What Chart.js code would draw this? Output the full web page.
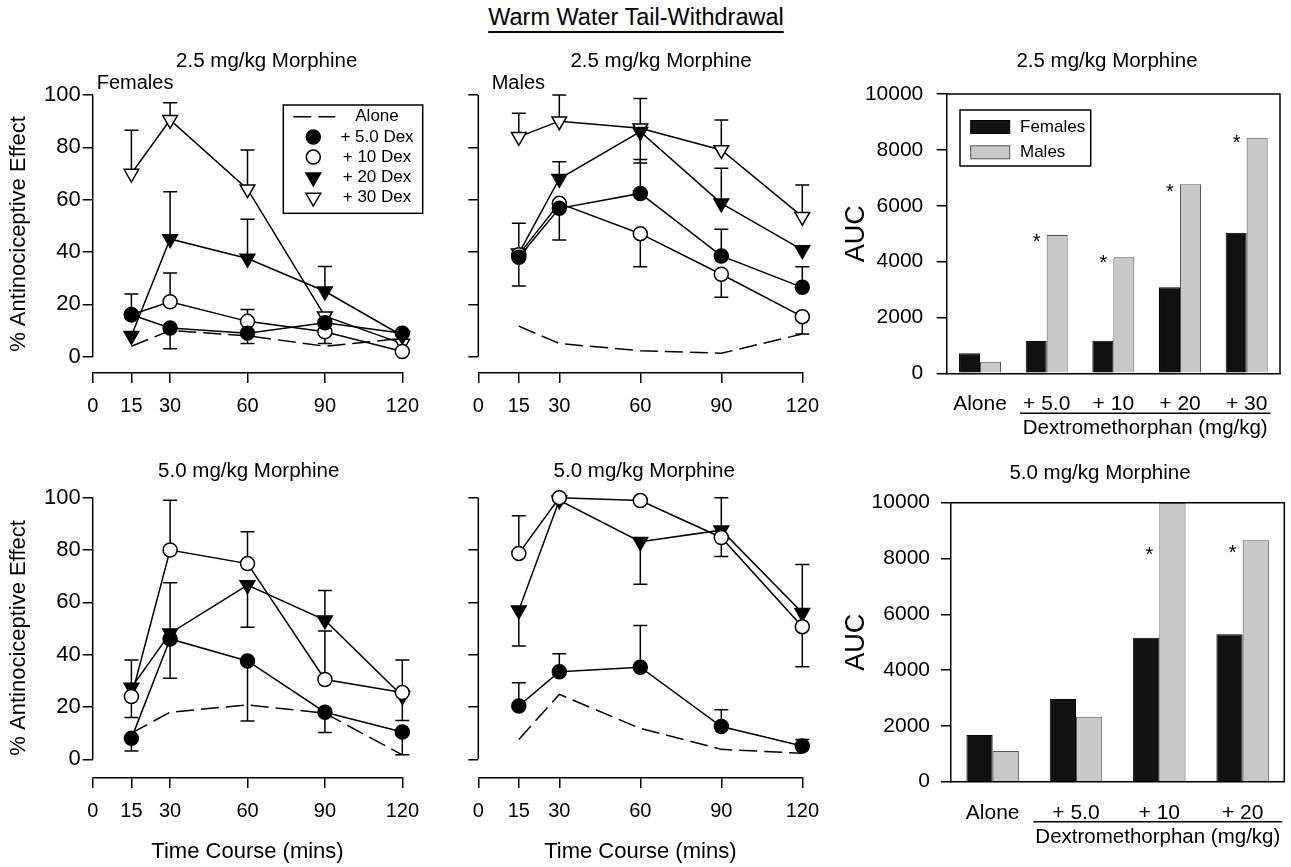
<!DOCTYPE html>
<html>
<head>
<meta charset="utf-8">
<title>Warm Water Tail-Withdrawal</title>
<script src="https://cdn.jsdelivr.net/npm/chart.js@4.4.1/dist/chart.umd.min.js"></script>
<style>
  body { margin: 0; background: #fff; }
  #page { position: relative; width: 1291px; height: 867px; overflow: hidden; background: #fff; }
  canvas { position: absolute; }
  #mainTitle {
    position: absolute; left: 0; top: 4px; width: 1272px; text-align: center;
    font: 23.5px 'Liberation Sans', Arial, sans-serif; color: #000;
    text-decoration: underline; text-underline-offset: 6px; text-decoration-thickness: 1.5px;
  }
</style>
</head>
<body>
<div id="page">
  <div id="mainTitle">Warm Water Tail-Withdrawal</div>
  <canvas id="f25"></canvas>
  <canvas id="m25"></canvas>
  <canvas id="f50"></canvas>
  <canvas id="m50"></canvas>
  <canvas id="auc25"></canvas>
  <canvas id="auc50"></canvas>
</div>
<script>
// time points (mins) and axis ticks
const times = [15, 30, 60, 90, 120];
const xTicks = [0, 15, 30, 60, 90, 120];
const pctTicks = [0, 20, 40, 60, 80, 100];
const aucTicks = [0, 2000, 4000, 6000, 8000, 10000];
const seriesNames = ['Alone', '+ 5.0 Dex', '+ 10 Dex', '+ 20 Dex', '+ 30 Dex'];

// 2.5 mg/kg morphine - females (errTips = end of the SEM bar, null = none drawn)
const f25Alone = [4, 10, 8, 4, 7];
const f25Dex5 = [16, 11, 9, 13, 9];
const f25Dex5Err = [24, 3, 5, null, null];
const f25Dex10 = [16, 21, 13.5, 9.5, 2];
const f25Dex10Err = [null, 32, 18, 5, null];
const f25Dex20 = [8, 45, 37.5, 25, 8];
const f25Dex20Err = [null, 63, 52.5, 34.5, null];
const f25Dex30 = [70, 90.5, 64, 15.5, 5];
const f25Dex30Err = [86.5, 97, 79, null, null];

// 2.5 mg/kg morphine - males
const m25Alone = [11.7, 5, 2.3, 1.3, 8.7];
const m25Dex5 = [38, 56.7, 62.4, 38.5, 26.5];
const m25Dex5Err = [27, 44.6, 75.4, 48.7, 34.4];
const m25Dex10 = [39, 58.6, 47, 31.5, 15.3];
const m25Dex10Err = [null, null, 34.4, 22.7, 8.7];
const m25Dex20 = [39.5, 68, 86, 58.6, 40.8];
const m25Dex20Err = [51, 74.5, 74, 72, null];
const m25Dex30 = [84, 90, 87.3, 79, 53.5];
const m25Dex30Err = [93, 100, 98.7, 90.4, 65.6];

// 5.0 mg/kg morphine - females
const f50Alone = [10, 18, 20.8, 17.6, 1.7];
const f50Dex5 = [8, 46, 37.6, 18, 10.4];
const f50Dex5Err = [3.2, 31, 14.6, 10.2, 1.7];
const f50Dex10 = [24, 80, 74.8, 30.5, 25.5];
const f50Dex10Err = [16, 99, 87, 49, 14.8];
const f50Dex20 = [27.4, 48.2, 66.6, 53.2, 24.2];
const f50Dex20Err = [38, 67.5, 50.5, 64.5, 38];

// 5.0 mg/kg morphine - males
const m50Alone = [7.6, 24.8, 11.8, 3.8, 2.3];
const m50Dex5 = [20.4, 33.5, 35.2, 12.5, 5.1];
const m50Dex5Err = [29.3, 40.3, 51.1, 18.9, 7.6];
const m50Dex10 = [78.7, 100, 98.9, 84.8, 50.7];
const m50Dex10Err = [93.1, null, null, 77.5, 35.4];
const m50Dex20 = [57, 99, 83.2, 87.6, 56];
const m50Dex20Err = [43.3, null, 66.9, 100, 74.5];

// AUC bars
const auc25Groups = ['Alone', '+ 5.0', '+ 10', '+ 20', '+ 30'];
const auc25Females = [716, 1157, 1169, 3079, 5036];
const auc25Males = [418, 4952, 4153, 6766, 8437];
const auc25Stars = [null, 4890, 4120, 6680, 8410];
const auc50Groups = ['Alone', '+ 5.0', '+ 10', '+ 20'];
const auc50Females = [1673, 2963, 5161, 5281];
const auc50Males = [1099, 2330, 10000, 8650];
const auc50Stars = [null, null, 8300, 8360];
const dexLabel = 'Dextromethorphan (mg/kg)';

const SANS = "'Liberation Sans', Arial, sans-serif";

Chart.defaults.font.family = SANS;
Chart.defaults.color = '#000';
Chart.defaults.animation = false;
Chart.defaults.plugins.legend.display = false;
Chart.defaults.plugins.tooltip.enabled = false;

// marker styles per series
const symbols = [
  { pointRadius: 0, borderDash: [18, 7] },
  { pointStyle: 'circle', pointRadius: 7, pointBackgroundColor: '#000' },
  { pointStyle: 'circle', pointRadius: 7, pointBackgroundColor: '#fff' },
  { pointStyle: 'triangle', pointRotation: 180, pointRadius: 8.5, pointBackgroundColor: '#000' },
  { pointStyle: 'triangle', pointRotation: 180, pointRadius: 8.5, pointBackgroundColor: '#fff' }
];

function series(i, values, tips) {
  return Object.assign({
    label: seriesNames[i],
    data: times.map((t, k) => ({ x: t, y: values[k] })),
    errTips: tips || null,
    borderColor: '#000',
    borderWidth: 1.5,
    pointBorderColor: '#000',
    pointBorderWidth: 1.5,
    tension: 0,
    clip: false,
    fill: false
  }, symbols[i]);
}

// --- plugins ---
const errorBars = {
  id: 'errorBars',
  beforeDatasetsDraw(chart) {
    const { ctx, scales: { x, y } } = chart;
    ctx.save();
    ctx.strokeStyle = '#000';
    ctx.lineWidth = 1.5;
    chart.data.datasets.forEach(ds => {
      if (!ds.errTips) return;
      ds.errTips.forEach((tip, i) => {
        if (tip === null) return;
        const px = x.getPixelForValue(ds.data[i].x);
        const p0 = y.getPixelForValue(ds.data[i].y);
        const p1 = y.getPixelForValue(tip);
        ctx.beginPath();
        ctx.moveTo(px, p0);
        ctx.lineTo(px, p1);
        ctx.moveTo(px - 7, p1);
        ctx.lineTo(px + 7, p1);
        ctx.stroke();
      });
    });
    ctx.restore();
  }
};

// y axis line only between first and last tick (detached axes)
const spine = {
  id: 'spine',
  beforeDatasetsDraw(chart) {
    const { ctx, chartArea, scales: { y } } = chart;
    ctx.save();
    ctx.strokeStyle = '#000';
    ctx.lineWidth = 1.5;
    ctx.beginPath();
    ctx.moveTo(chartArea.left, y.getPixelForValue(pctTicks[0]));
    ctx.lineTo(chartArea.left, y.getPixelForValue(pctTicks[pctTicks.length - 1]));
    ctx.stroke();
    ctx.restore();
  }
};

const frame = {
  id: 'frame',
  afterDatasetsDraw(chart) {
    const { ctx, chartArea: a } = chart;
    ctx.save();
    ctx.strokeStyle = '#000';
    ctx.lineWidth = 1.5;
    ctx.beginPath();
    ctx.moveTo(a.left, a.top);
    ctx.lineTo(a.right, a.top);
    ctx.lineTo(a.right, a.bottom);
    ctx.stroke();
    ctx.restore();
  }
};

const boxLegend = {
  id: 'boxLegend',
  afterDatasetsDraw(chart, args, o) {
    if (!o.box) return;
    const { ctx } = chart;
    const b = o.box;
    ctx.save();
    ctx.fillStyle = '#fff';
    ctx.fillRect(b.x, b.y, b.w, b.h);
    ctx.strokeStyle = '#000';
    ctx.lineWidth = 1.5;
    ctx.strokeRect(b.x, b.y, b.w, b.h);
    ctx.font = '17px ' + SANS;
    ctx.textBaseline = 'middle';
    chart.data.datasets.forEach((ds, i) => {
      const cy = b.y + o.first + i * o.step;
      ctx.fillStyle = '#000';
      if (chart.config.type === 'bar') {
        ctx.fillStyle = ds.backgroundColor;
        ctx.fillRect(o.symX, cy - 6.5, 39, 13);
        ctx.strokeStyle = ds.borderColor;
        ctx.lineWidth = 1;
        ctx.strokeRect(o.symX, cy - 6.5, 39, 13);
        ctx.fillStyle = '#000';
        ctx.textAlign = 'left';
        ctx.fillText(ds.label, o.textX, cy);
        return;
      }
      if (!ds.pointRadius) {
        ctx.save();
        ctx.strokeStyle = '#000';
        ctx.lineWidth = 1.5;
        ctx.setLineDash(ds.borderDash);
        ctx.beginPath();
        ctx.moveTo(o.symX - 20, cy);
        ctx.lineTo(o.symX + 22, cy);
        ctx.stroke();
        ctx.restore();
      } else {
        ctx.fillStyle = ds.pointBackgroundColor;
        ctx.strokeStyle = '#000';
        ctx.lineWidth = 1.5;
        Chart.helpers.drawPoint(ctx, {
          pointStyle: ds.pointStyle, radius: ds.pointRadius,
          rotation: ds.pointRotation || 0, borderWidth: 1.5
        }, o.symX, cy);
      }
      ctx.fillStyle = '#000';
      ctx.textAlign = 'center';
      ctx.fillText(ds.label, o.textX, cy);
    });
    ctx.restore();
  }
};

const stars = {
  id: 'stars',
  afterDatasetsDraw(chart) {
    const { ctx, scales: { y } } = chart;
    const ds = chart.data.datasets[1];
    const bars = chart.getDatasetMeta(1).data;
    ctx.save();
    ctx.font = '20px ' + SANS;
    ctx.fillStyle = '#000';
    ctx.textAlign = 'center';
    ctx.textBaseline = 'alphabetic';
    ds.stars.forEach((v, i) => {
      if (v === null) return;
      ctx.fillText('*', bars[i].x - bars[i].width / 2 - 10, y.getPixelForValue(v) + 11);
    });
    ctx.restore();
  }
};

const dexBracket = {
  id: 'dexBracket',
  afterDraw(chart, args, o) {
    const { ctx, chartArea, scales: { x } } = chart;
    const labels = chart.data.labels;
    const last = labels.length - 1;
    ctx.save();
    ctx.font = '21px ' + SANS;
    const x0 = x.getPixelForValue(1) - ctx.measureText(labels[1]).width / 2 - o.extend;
    const x1 = x.getPixelForValue(last) + ctx.measureText(labels[last]).width / 2 + o.extend;
    const yl = chartArea.bottom + 40;
    ctx.strokeStyle = '#000';
    ctx.lineWidth = 1.5;
    ctx.beginPath();
    ctx.moveTo(x0, yl);
    ctx.lineTo(x1, yl);
    ctx.stroke();
    ctx.font = '20.5px ' + SANS;
    ctx.fillStyle = '#000';
    ctx.textAlign = 'center';
    ctx.textBaseline = 'middle';
    ctx.fillText(dexLabel, (x0 + x1) / 2, yl + 15.5);
    ctx.restore();
  }
};

const panelText = {
  id: 'panelText',
  afterDraw(chart, args, o) {
    const { ctx } = chart;
    (o.items || []).forEach(t => {
      ctx.save();
      ctx.font = t.size + 'px ' + SANS;
      ctx.fillStyle = '#000';
      ctx.textAlign = t.align;
      ctx.textBaseline = 'middle';
      ctx.fillText(t.text, t.x, t.y);
      ctx.restore();
    });
  }
};

function place(id, p) {
  const c = document.getElementById(id);
  c.width = p.w;
  c.height = p.h;
  c.style.left = p.left + 'px';
  c.style.top = p.top + 'px';
  c.style.width = p.w + 'px';
  c.style.height = p.h + 'px';
  return c;
}

// page coordinates -> canvas coordinates for free text
function texts(p, list) {
  return list.map(t => Object.assign({}, t, { x: t.x - p.left, y: t.y - p.top }));
}

function lineChart(id, p, yMin, datasets, opt) {
  const canvas = place(id, p);
  return new Chart(canvas, {
    type: 'line',
    data: { datasets },
    options: {
      responsive: false,
      devicePixelRatio: 1,
      layout: { padding: { left: 0, right: p.padR, top: p.padT, bottom: 0 } },
      scales: {
        x: {
          type: 'linear', min: 0, max: 120,
          afterBuildTicks: s => { s.ticks = xTicks.map(v => ({ value: v })); },
          afterFit: s => { s.height = p.xH; },
          grid: { drawOnChartArea: false, drawTicks: true, tickLength: 10, color: '#000', lineWidth: 1.5 },
          border: { display: true, color: '#000', width: 1.5 },
          ticks: { font: { size: 20 }, padding: 11, maxRotation: 0, autoSkip: false },
          title: {
            display: !!opt.xTitle, text: 'Time Course (mins)',
            font: { size: 22 }, padding: { top: 0, bottom: 2 }
          }
        },
        y: {
          type: 'linear', min: yMin, max: 100,
          afterBuildTicks: s => { s.ticks = pctTicks.map(v => ({ value: v })); },
          afterFit: s => { s.width = p.yW; },
          grid: { drawOnChartArea: false, drawTicks: true, tickLength: 10, color: '#000', lineWidth: 1.5 },
          border: { display: false },
          ticks: { display: !!opt.yLabels, font: { size: 22 }, padding: 2 },
          title: {
            display: !!opt.yLabels, text: '% Antinociceptive Effect',
            font: { size: 22 }, padding: { top: 6, bottom: 0 }
          }
        }
      },
      plugins: {
        panelText: { items: texts(p, opt.texts) },
        boxLegend: opt.legend ? {
          box: { x: 283.3 - p.left, y: 105 - p.top, w: 139.4, h: 108.3 },
          first: 11.7, step: 20.2, symX: 313.3 - p.left, textX: 377 - p.left
        } : {}
      }
    },
    plugins: [errorBars, spine, boxLegend, panelText]
  });
}

function barChart(id, p, groups, females, males, starVals, opt) {
  const canvas = place(id, p);
  return new Chart(canvas, {
    type: 'bar',
    data: {
      labels: groups,
      datasets: [
        { label: 'Females', data: females, backgroundColor: '#111', borderColor: '#000', borderWidth: 1,
          categoryPercentage: 0.63, barPercentage: 1.0 },
        { label: 'Males', data: males, stars: starVals, backgroundColor: '#c8c8c8', borderColor: '#555', borderWidth: 1,
          categoryPercentage: 0.63, barPercentage: 1.0 }
      ]
    },
    options: {
      responsive: false,
      devicePixelRatio: 1,
      layout: { padding: { left: 0, right: p.padR, top: p.padT, bottom: 0 } },
      scales: {
        x: {
          afterFit: s => { s.height = p.xH; },
          grid: { display: false },
          border: { display: true, color: '#000', width: 1.5 },
          ticks: { font: { size: 21 }, padding: 10.8, maxRotation: 0, autoSkip: false }
        },
        y: {
          min: 0, max: 10000,
          afterBuildTicks: s => { s.ticks = aucTicks.map(v => ({ value: v })); },
          afterFit: s => { s.width = p.yW; },
          grid: { drawOnChartArea: false, drawTicks: true, tickLength: 10, color: '#000', lineWidth: 1.5 },
          border: { display: true, color: '#000', width: 1.5 },
          ticks: { font: { size: 21 }, padding: opt.tickPad, callback: v => String(v) },
          title: { display: true, text: 'AUC', font: { size: 27 }, padding: { top: 2.8, bottom: 0 } }
        }
      },
      plugins: {
        panelText: { items: texts(p, opt.texts) },
        dexBracket: { extend: opt.extend },
        boxLegend: opt.legend ? {
          box: { x: 960 - p.left, y: 110 - p.top, w: 130.7, h: 56 },
          first: 17, step: 25.3, symX: 970.7 - p.left, textX: 1020 - p.left
        } : {}
      }
    },
    plugins: [frame, stars, boxLegend, dexBracket, panelText]
  });
}

lineChart('f25', { left: 0, top: 30, w: 430, h: 400, yW: 92.7, padR: 25, padT: 65, xH: 57 }, -6.23, [
  series(0, f25Alone), series(1, f25Dex5, f25Dex5Err), series(2, f25Dex10, f25Dex10Err),
  series(3, f25Dex20, f25Dex20Err), series(4, f25Dex30, f25Dex30Err)
], {
  yLabels: true, legend: true,
  texts: [
    { text: '2.5 mg/kg Morphine', x: 266.7, y: 61.7, size: 20.5, align: 'center' },
    { text: 'Females', x: 96.7, y: 83.3, size: 20, align: 'left' }
  ]
});

lineChart('m25', { left: 400, top: 30, w: 430, h: 400, yW: 78.3, padR: 19, padT: 65, xH: 57 }, -6.23, [
  series(0, m25Alone), series(1, m25Dex5, m25Dex5Err), series(2, m25Dex10, m25Dex10Err),
  series(3, m25Dex20, m25Dex20Err), series(4, m25Dex30, m25Dex30Err)
], {
  texts: [
    { text: '2.5 mg/kg Morphine', x: 661, y: 61.7, size: 20.5, align: 'center' },
    { text: 'Males', x: 491.7, y: 83.3, size: 20, align: 'left' }
  ]
});

lineChart('f50', { left: 0, top: 440, w: 430, h: 427, yW: 92.7, padR: 25, padT: 57.7, xH: 89 }, -7.15, [
  series(0, f50Alone), series(1, f50Dex5, f50Dex5Err), series(2, f50Dex10, f50Dex10Err),
  series(3, f50Dex20, f50Dex20Err)
], {
  yLabels: true, xTitle: true,
  texts: [{ text: '5.0 mg/kg Morphine', x: 248.7, y: 471.7, size: 20.5, align: 'center' }]
});

lineChart('m50', { left: 400, top: 440, w: 430, h: 427, yW: 78.3, padR: 19, padT: 57.7, xH: 89 }, -7.15, [
  series(0, m50Alone), series(1, m50Dex5, m50Dex5Err), series(2, m50Dex10, m50Dex10Err),
  series(3, m50Dex20, m50Dex20Err)
], {
  xTitle: true,
  texts: [{ text: '5.0 mg/kg Morphine', x: 644.2, y: 471.7, size: 20.5, align: 'center' }]
});

barChart('auc25', { left: 838, top: 30, w: 453, h: 420, yW: 108.7, padR: 11, padT: 64, xH: 76.7 },
  auc25Groups, auc25Females, auc25Males, auc25Stars, {
    legend: true, tickPad: 13.4, extend: 3,
    texts: [{ text: '2.5 mg/kg Morphine', x: 1107, y: 61.7, size: 20.5, align: 'center' }]
  });

barChart('auc50', { left: 838, top: 455, w: 453, h: 412, yW: 113, padR: 6.7, padT: 47.7, xH: 85.3 },
  auc50Groups, auc50Females, auc50Males, auc50Stars, {
    tickPad: 11, extend: 19,
    texts: [{ text: '5.0 mg/kg Morphine', x: 1100, y: 473.3, size: 20.5, align: 'center' }]
  });
</script>
</body>
</html>
